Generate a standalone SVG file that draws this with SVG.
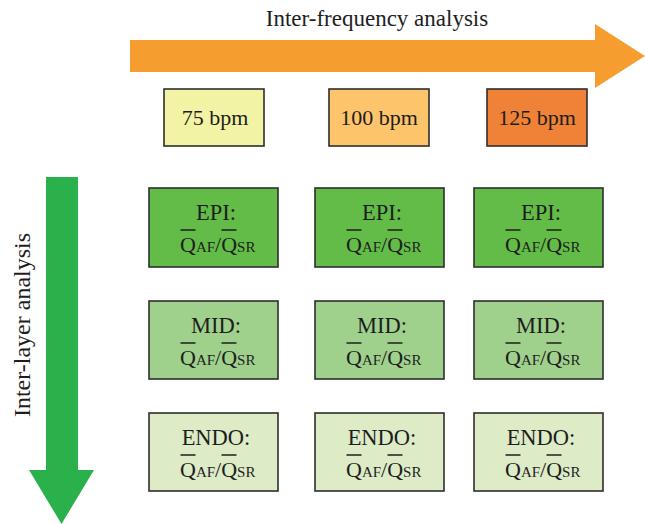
<svg xmlns="http://www.w3.org/2000/svg" width="645" height="524" viewBox="0 0 645 524">
<style>
text{font-family:"Liberation Serif","Times New Roman",serif;fill:#1e1e1e}
.h{font-size:23px;text-anchor:middle}
.v{font-size:24px;text-anchor:middle}
.l{font-size:22px;text-anchor:middle}
.t1{font-size:22.5px;text-anchor:middle}
.t2{font-size:22px}
.sc{font-size:15px}
.box{stroke:#2e2e2e;stroke-width:1.6}
.bar{stroke:#1e1e1e;stroke-width:1.5}
.epi{fill:#63BC47}
.mid{fill:#A0D18C}
.endo{fill:#DDEBC7}
</style>
<defs>
<g id="ratio">
<text class="t2" x="0" y="0">Q<tspan class="sc">AF</tspan>/Q<tspan class="sc">SR</tspan></text>
<line class="bar" x1="0.5" y1="-22" x2="15.5" y2="-22"/>
<line class="bar" x1="41.5" y1="-22" x2="56.5" y2="-22"/>
</g>
</defs>
<g id="arrows">
<polygon id="freq-arrow" fill="#F59D2F" points="130,40 595,40 595,24 645,56 595,88 595,72 130,72"/>
<polygon id="layer-arrow" fill="#2BB14B" points="46,177 78,177 78,470 94,470 61.5,524 29,470 46,470"/>
<text class="h" x="377" y="26">Inter-frequency analysis</text>
<text class="v" transform="translate(30,325) rotate(-90)">Inter-layer analysis</text>
</g>
<g id="f75"><rect class="box" x="164" y="89" width="100" height="57" fill="#F3F3A6"/><text class="l" x="215" y="125">75 bpm</text></g>
<g id="f100"><rect class="box" x="329" y="89" width="100" height="57" fill="#FDC46C"/><text class="l" x="379" y="125">100 bpm</text></g>
<g id="f125"><rect class="box" x="487" y="89" width="100" height="57" fill="#F08237"/><text class="l" x="537" y="125">125 bpm</text></g>

<g id="epi75"><rect class="box epi" x="149" y="188" width="129" height="79"/><text class="t1" x="216" y="220">EPI:</text><use href="#ratio" x="180" y="252"/></g>
<g id="epi100"><rect class="box epi" x="315" y="188" width="129" height="79"/><text class="t1" x="382" y="220">EPI:</text><use href="#ratio" x="346" y="252"/></g>
<g id="epi125"><rect class="box epi" x="474" y="188" width="129" height="79"/><text class="t1" x="541" y="220">EPI:</text><use href="#ratio" x="505" y="252"/></g>

<g id="mid75"><rect class="box mid" x="149" y="301" width="129" height="78"/><text class="t1" x="216" y="333">MID:</text><use href="#ratio" x="180" y="365"/></g>
<g id="mid100"><rect class="box mid" x="315" y="301" width="129" height="78"/><text class="t1" x="382" y="333">MID:</text><use href="#ratio" x="346" y="365"/></g>
<g id="mid125"><rect class="box mid" x="474" y="301" width="129" height="78"/><text class="t1" x="541" y="333">MID:</text><use href="#ratio" x="505" y="365"/></g>

<g id="endo75"><rect class="box endo" x="149" y="413" width="129" height="78"/><text class="t1" x="216" y="445">ENDO:</text><use href="#ratio" x="180" y="477"/></g>
<g id="endo100"><rect class="box endo" x="315" y="413" width="129" height="78"/><text class="t1" x="382" y="445">ENDO:</text><use href="#ratio" x="346" y="477"/></g>
<g id="endo125"><rect class="box endo" x="474" y="413" width="129" height="78"/><text class="t1" x="541" y="445">ENDO:</text><use href="#ratio" x="505" y="477"/></g>
</svg>
